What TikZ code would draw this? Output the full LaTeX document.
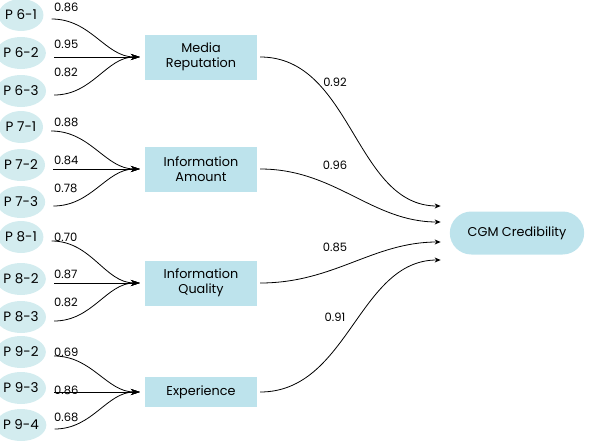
\documentclass[tikz,border=0pt]{standalone}
\usepackage{fontspec}
\setmainfont{Poppins}
\usepackage{xcolor}
\usepackage{tikz}
\usetikzlibrary{positioning,arrows.meta,shapes.geometric,shapes.misc}

\definecolor{itemfill}{HTML}{D3ECEF}
\definecolor{factfill}{HTML}{BDE3EC}

\begin{document}
\begin{tikzpicture}[x=1pt,y=-1pt,
    item/.style={ellipse,fill=itemfill,minimum width=44pt,minimum height=32pt,inner sep=0pt,font=\fontsize{13.5}{15}\selectfont},
    factor/.style={rectangle,fill=factfill,minimum width=112pt,minimum height=45pt,align=center,font=\fontsize{12.8}{14.5}\selectfont},
    target/.style={rounded rectangle,fill=factfill,minimum width=141pt,minimum height=43pt,font=\fontsize{12.8}{14.5}\selectfont},
    wt/.style={font=\fontsize{11.5}{13}\selectfont,inner sep=0pt},
    load/.style={line width=0.8pt,-{Stealth[length=9pt,width=6pt]},shorten >=5pt},
    path/.style={line width=0.8pt,-{Stealth[length=6pt,width=5pt]},shorten >=9pt,shorten <=3pt}]
    \useasboundingbox (0,0) rectangle (589,442);
    % indicators
    \node[item] (p61) at (21,15) {P 6-1};
    \node[item] (p62) at (21,53) {P 6-2};
    \node[item] (p63) at (21,91) {P 6-3};
    \node[item] (p71) at (21,127) {P 7-1};
    \node[item] (p72) at (21,165) {P 7-2};
    \node[item] (p73) at (21,202) {P 7-3};
    \node[item] (p81) at (21,237) {P 8-1};
    \node[item] (p82) at (21,279) {P 8-2};
    \node[item] (p83) at (21,317) {P 8-3};
    \node[item] (p92) at (21,352) {P 9-2};
    \node[item] (p93) at (21,388) {P 9-3};
    \node[item] (p94) at (21,425) {P 9-4};
    % factors
    \node[factor] (media) at (201,57) {Media\\Reputation};
    \node[factor] (amount) at (201,169) {Information\\Amount};
    \node[factor] (quality) at (201,283) {Information\\Quality};
    \node[factor,minimum height=30pt] (exper) at (201,392) {Experience};
    \node[target] (cgm) at (517,233) {CGM Credibility};
    % loadings
    \draw[load] ([xshift=8pt,yshift=-4pt]p61.east) to[out=0,in=180] (media.west);
    \draw[load] ([xshift=8pt,yshift=-4pt]p62.east) -- (media.west);
    \draw[load] ([xshift=8pt,yshift=-4pt]p63.east) to[out=0,in=180] (media.west);
    \draw[load] ([xshift=8pt,yshift=-4pt]p71.east) to[out=0,in=180] (amount.west);
    \draw[load] ([xshift=8pt,yshift=-4pt]p72.east) -- (amount.west);
    \draw[load] ([xshift=8pt,yshift=-4pt]p73.east) to[out=0,in=180] (amount.west);
    \draw[load] ([xshift=8pt,yshift=-4pt]p81.east) to[out=0,in=180] (quality.west);
    \draw[load] ([xshift=8pt,yshift=-4pt]p82.east) -- (quality.west);
    \draw[load] ([xshift=8pt,yshift=-4pt]p83.east) to[out=0,in=180] (quality.west);
    \draw[load] ([xshift=8pt,yshift=-4pt]p92.east) to[out=0,in=180] (exper.west);
    \draw[load] ([xshift=8pt,yshift=-4pt]p93.east) -- (exper.west);
    \draw[load] ([xshift=8pt,yshift=-4pt]p94.east) to[out=0,in=180] (exper.west);
    \node[wt,anchor=west] (w61) at (54,7) {0.86};
    \node[wt,anchor=west] (w62) at (54,44) {0.95};
    \node[wt,anchor=west] (w63) at (54,72) {0.82};
    \node[wt,anchor=west] (w71) at (54,122) {0.88};
    \node[wt,anchor=west] (w72) at (54,160) {0.84};
    \node[wt,anchor=west] (w73) at (54,188) {0.78};
    \node[wt,anchor=west] (w81) at (54,237) {0.70};
    \node[wt,anchor=west] (w82) at (54,274) {0.87};
    \node[wt,anchor=west] (w83) at (54,302) {0.82};
    \node[wt,anchor=west] (w92) at (54,352) {0.69};
    \node[wt,anchor=west] (w93) at (54,390) {0.86};
    \node[wt,anchor=west] (w94) at (54,417) {0.68};
    % paths to credibility
    \draw[path] (media.east) to[out=0,in=180] ([yshift=27pt]cgm.west);
    \draw[path] (amount.east) to[out=0,in=180] ([yshift=11pt]cgm.west);
    \draw[path] (quality.east) to[out=0,in=180] ([yshift=-9pt]cgm.west);
    \draw[path] (exper.east) to[out=0,in=180] ([yshift=-27pt]cgm.west);
    \node[wt] (wm) at (335,82) {0.92};
    \node[wt] (wa) at (335,165) {0.96};
    \node[wt] (wq) at (335,247) {0.85};
    \node[wt] (we) at (335,317) {0.91};
\end{tikzpicture}
\end{document}
